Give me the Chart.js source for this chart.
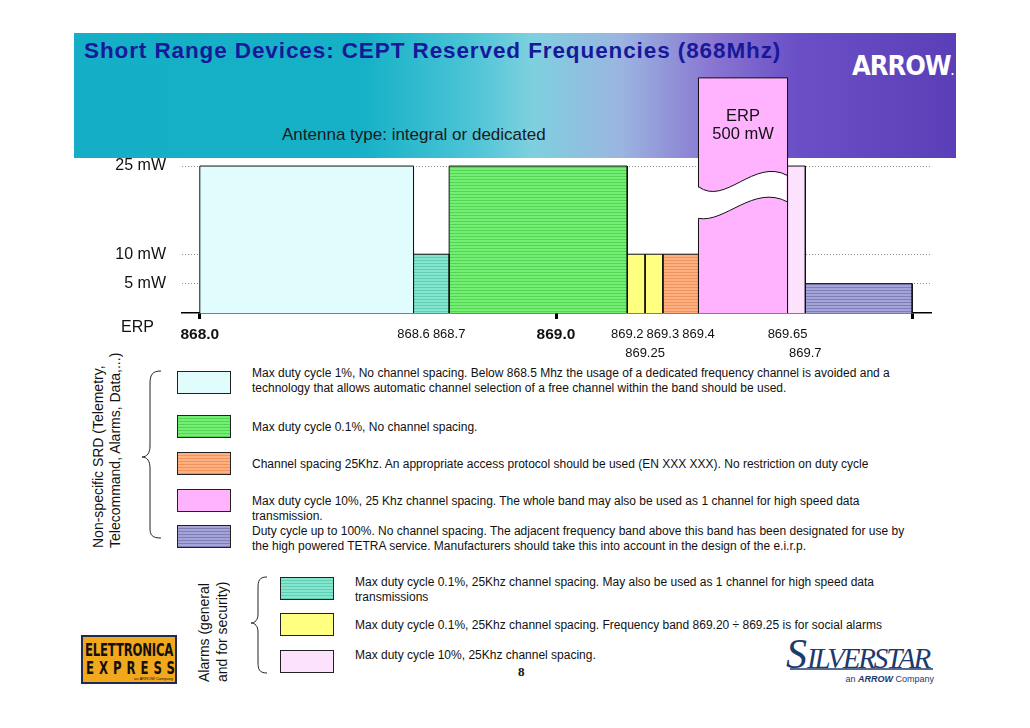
<!DOCTYPE html>
<html>
<head>
<meta charset="utf-8">
<script src="https://cdn.jsdelivr.net/npm/chart.js@4/dist/chart.umd.min.js"></script>
<style>
  html, body { margin: 0; padding: 0; background: #fff; }
  body { width: 1030px; height: 728px; position: relative; overflow: hidden;
         font-family: "Liberation Sans", Arial, sans-serif; color: #111; }
  .abs { position: absolute; }
  #header { left: 74px; top: 33px; width: 882px; height: 125px;
    background: linear-gradient(90deg, #14aec6 0%, #17b1c7 33%, #4cc4d6 45%, #7ed0df 52%, #9bb5e0 62%, #8a78d2 72%, #6a4fc6 82%, #5a3fb8 100%); }
  #title { left: 84px; top: 38px; font-size: 22.5px; letter-spacing: 0.9px; font-weight: bold; color: #18189a; white-space: nowrap; }
  #antenna { left: 282px; top: 125px; font-size: 17px; color: #1a1a1a; white-space: nowrap; }
  #arrow { left: 852px; top: 50px; font-size: 27px; font-weight: bold; color: #fff; letter-spacing: -1px;
           font-family: "DejaVu Sans Condensed", "Liberation Sans", sans-serif; }
  #chartWrap { left: 0; top: 0; width: 1030px; height: 370px; z-index: 2; pointer-events: none; }
  .sw { position: absolute; width: 52px; height: 21px; border: 1px solid #222; }
  .txt { position: absolute; font-size: 12px; line-height: 15px; white-space: nowrap; color: #111; }
  .rot { position: absolute; writing-mode: vertical-rl; transform: rotate(180deg); white-space: nowrap; color: #111; }
  .hatch-teal { background: repeating-linear-gradient(180deg, #84e6cf 0 2px, #5fcfb4 2px 3px); }
  .hatch-green { background: repeating-linear-gradient(180deg, #74ee74 0 2px, #52d652 2px 3px); }
  .hatch-orange { background: repeating-linear-gradient(180deg, #ffb07e 0 2px, #ee9460 2px 3px); }
  .hatch-purple { background: repeating-linear-gradient(180deg, #a4a4d6 0 2px, #7e7ebc 2px 3px); }
  #elettronica { left: 81px; top: 635px; width: 92px; height: 45px; background: #f2a81c; border: 2px solid #1d2b55;
                 font-family: "DejaVu Sans Condensed", sans-serif; font-weight: bold; color: #111; overflow: hidden; }
  #silverstar { left: 786px; top: 630px; width: 150px; height: 56px; color: #1d3a6c; font-family: "Liberation Serif", serif; }
</style>
</head>
<body>
<div id="header" class="abs"></div>
<div id="title" class="abs">Short Range Devices: CEPT Reserved Frequencies (868Mhz)</div>
<div id="antenna" class="abs">Antenna type: integral or dedicated</div>
<div id="arrow" class="abs">ARROW<span style="font-size:10px">.</span></div>

<div id="chartWrap" class="abs"><canvas id="bandChart" width="1030" height="370"></canvas></div>

<!-- legend: non-specific SRD -->
<div class="rot" style="left:90px; top:350px; height:198px; font-size:14px; line-height:17px;">Non-specific SRD (Telemetry,<br>Telecommand, Alarms, Data,...)</div>
<svg class="abs" style="left:0; top:0;" width="1030" height="728">
  <path d="M161,371 C152,371 150,375 150,384 L150,446 C150,453 147,457 142,457 C147,457 150,461 150,468 L150,528 C150,535 152,538 161,538" fill="none" stroke="#222" stroke-width="1"/>
  <path d="M267,577 C259,577 258,581 258,588 L258,614 C258,620 255,623 251,623 C255,623 258,626 258,632 L258,662 C258,669 259,673 267,673" fill="none" stroke="#222" stroke-width="1"/>
  <line x1="790" y1="669" x2="933" y2="669" stroke="#1d3a6c" stroke-width="1.5"/>
</svg>

<div class="sw" style="left:177px; top:371px; background:#e0fcfc;"></div>
<div class="sw hatch-green" style="left:177px; top:415px;"></div>
<div class="sw hatch-orange" style="left:177px; top:452px;"></div>
<div class="sw" style="left:177px; top:489px; background:#ffb3ff;"></div>
<div class="sw hatch-purple" style="left:177px; top:525px;"></div>

<div class="txt" style="left:252px; top:366px;">Max duty cycle 1%, No channel spacing. Below 868.5 Mhz the usage of a dedicated frequency channel is avoided and a<br>technology that allows automatic channel selection of a free channel within the band should be used.</div>
<div class="txt" style="left:252px; top:420px;">Max duty cycle 0.1%, No channel spacing.</div>
<div class="txt" style="left:252px; top:457px;">Channel spacing 25Khz. An appropriate access protocol should be used (EN XXX XXX). No restriction on duty cycle</div>
<div class="txt" style="left:252px; top:494px;">Max duty cycle 10%, 25 Khz channel spacing. The whole band may also be used as 1 channel for high speed data<br>transmission.</div>
<div class="txt" style="left:252px; top:524px;">Duty cycle up to 100%. No channel spacing. The adjacent frequency band above this band has been designated for use by<br>the high powered TETRA service. Manufacturers should take this into account in the design of the e.i.r.p.</div>

<!-- legend: alarms -->
<div class="rot" style="left:195px; top:575px; height:107px; font-size:14px; line-height:18px;">Alarms (general<br>and for security)</div>
<div class="sw hatch-teal" style="left:280px; top:577px;"></div>
<div class="sw" style="left:280px; top:613px; background:#ffff80;"></div>
<div class="sw" style="left:280px; top:650px; background:#fde2fd;"></div>
<div class="txt" style="left:355px; top:575px;">Max duty cycle 0.1%, 25Khz channel spacing. May also be used as 1 channel for high speed data<br>transmissions</div>
<div class="txt" style="left:355px; top:618px;">Max duty cycle 0.1%, 25Khz channel spacing. Frequency band 869.20 ÷ 869.25 is for social alarms</div>
<div class="txt" style="left:355px; top:648px;">Max duty cycle 10%, 25Khz channel spacing.</div>
<div class="abs" style="left:518px; top:664px; font-family:'Liberation Serif',serif; font-weight:bold; font-size:13px;">8</div>

<div id="elettronica" class="abs">
  <div style="position:absolute; left:2px; top:3px; font-size:13px; letter-spacing:-0.2px; transform:scaleY(1.35); transform-origin:0 0;">ELETTRONICA</div>
  <div style="position:absolute; left:3px; top:21px; font-size:13px; letter-spacing:5px; transform:scaleY(1.35); transform-origin:0 0;">EXPRESS</div>
  <div style="position:absolute; right:2px; top:39px; font-size:4px; font-weight:normal; font-family:'Liberation Sans',sans-serif;">an ARROW Company</div>
</div>
<div id="silverstar" class="abs">
  <div style="position:absolute; left:0; top:0; font-style:italic; white-space:nowrap;"><span style="font-size:42px;">S</span><span style="font-size:29px; letter-spacing:-2.2px;">ILVERSTAR</span></div>
  <div style="position:absolute; right:2px; top:44px; font-size:9px; font-family:'Liberation Sans',sans-serif;">an <b><i>ARROW</i></b> Company</div>
</div>

<script>
// frequency bands (MHz) and their max ERP (mW)
const bandStart = [868.0, 868.6, 868.7, 869.2, 869.25, 869.3, 869.4, 869.65, 869.7];
const bandEnd   = [868.6, 868.7, 869.2, 869.25, 869.3, 869.4, 869.65, 869.7, 870.0];
const bandErp   = [25, 10, 25, 10, 10, 10, 500, 25, 5];

// x axis ticks
const tickValues = [868.0, 868.6, 868.7, 869.0, 869.2, 869.25, 869.3, 869.4, 869.65, 869.7, 870.0];
const tickLabels = ['868.0', '868.6', '868.7', '869.0', '869.2', '869.25', '869.3', '869.4', '869.65', '869.7', ''];
const majorTicks = [868.0, 869.0, 870.0];
const lowerRowTicks = [869.25, 869.7];

// y axis ticks (mW)
const erpTicks = [5, 10, 25];
const brokenAxisCap = 40;   // bars above this are drawn cut with a break

const FONT = '"Liberation Sans", Arial, sans-serif';

function makeHatch(base, line) {
    const c = document.createElement('canvas');
    c.width = 4; c.height = 3;
    const g = c.getContext('2d');
    g.fillStyle = base; g.fillRect(0, 0, 4, 3);
    g.fillStyle = line; g.fillRect(0, 2, 4, 1);
    return g.createPattern(c, 'repeat');
}

const bandFill = [
    '#e0fcfc',
    makeHatch('#84e6cf', '#5fcfb4'),
    makeHatch('#74ee74', '#52d652'),
    '#ffff80',
    '#ffff80',
    makeHatch('#ffb07e', '#ee9460'),
    '#ffb3ff',
    '#fde2fd',
    makeHatch('#a4a4d6', '#7e7ebc')
];

const datasets = bandStart.map((s, i) => {
    const e = bandEnd[i];
    const h = Math.min(bandErp[i], brokenAxisCap);
    return {
        data: [{x: s, y: 0}, {x: s, y: h}, {x: e, y: h}, {x: e, y: 0}],
        borderColor: '#111',
        borderWidth: 1,
        backgroundColor: bandFill[i],
        fill: 'origin',
        pointRadius: 0,
        tension: 0
    };
});

// wavy break on off-scale bands + their ERP label
const breakPlugin = {
    id: 'breakPlugin',
    afterDatasetsDraw(chart) {
        const {ctx, scales: {x, y}} = chart;
        bandErp.forEach((v, i) => {
            if (v <= brokenAxisCap) return;
            const L = x.getPixelForValue(bandStart[i]);
            const R = x.getPixelForValue(bandEnd[i]);
            const w = R - L;
            const t0 = y.getPixelForValue(21.5), t1 = y.getPixelForValue(23.4);
            const b0 = y.getPixelForValue(16.1), b1 = y.getPixelForValue(18.9);
            ctx.save();
            ctx.beginPath();
            ctx.moveTo(L - 1.5, t0);
            ctx.bezierCurveTo(L + 0.3 * w, t0 + 20, L + 0.62 * w, t1 - 18, R - 1, t1);
            ctx.lineTo(R - 1, b1);
            ctx.bezierCurveTo(L + 0.62 * w, b1 - 18, L + 0.3 * w, b0 + 5, L - 1.5, b0);
            ctx.closePath();
            ctx.fillStyle = '#fff';
            ctx.fill();
            ctx.strokeStyle = '#111';
            ctx.lineWidth = 1;
            ctx.beginPath();
            ctx.moveTo(L, t0);
            ctx.bezierCurveTo(L + 0.3 * w, t0 + 20, L + 0.62 * w, t1 - 18, R, t1);
            ctx.stroke();
            ctx.beginPath();
            ctx.moveTo(L, b0);
            ctx.bezierCurveTo(L + 0.3 * w, b0 + 5, L + 0.62 * w, b1 - 18, R, b1);
            ctx.stroke();

            const top = y.getPixelForValue(brokenAxisCap);
            ctx.fillStyle = '#111';
            ctx.font = '16.5px ' + FONT;
            ctx.textAlign = 'center';
            ctx.textBaseline = 'middle';
            ctx.fillText('ERP', (L + R) / 2, top + 39);
            ctx.fillText(v + ' mW', (L + R) / 2, top + 57);
            ctx.restore();
        });

        // "ERP" caption to the left of the frequency axis
        ctx.save();
        ctx.fillStyle = '#111';
        ctx.font = '16px ' + FONT;
        ctx.textAlign = 'right';
        ctx.textBaseline = 'middle';
        ctx.fillText('ERP', chart.chartArea.left - 28, chart.chartArea.bottom + 15);
        ctx.restore();
    }
};

new Chart(document.getElementById('bandChart'), {
    type: 'line',
    data: { datasets },
    options: {
        responsive: false,
        animation: false,
        layout: { padding: { top: 72, right: 100, left: 0, bottom: 0 } },
        plugins: { legend: { display: false }, tooltip: { enabled: false } },
        scales: {
            x: {
                type: 'linear',
                min: 867.95,
                max: 870.05,
                afterBuildTicks: s => { s.ticks = tickValues.map(v => ({value: v})); },
                afterFit: s => { s.height = 57; },
                border: { display: true, color: '#000', width: 1.5 },
                grid: {
                    drawOnChartArea: false,
                    drawTicks: true,
                    tickLength: 6,
                    color: c => majorTicks.includes(c.tick && c.tick.value) ? '#000' : 'rgba(0,0,0,0)',
                    lineWidth: c => majorTicks.includes(c.tick && c.tick.value) ? 3 : 1
                },
                ticks: {
                    autoSkip: false,
                    maxRotation: 0,
                    minRotation: 0,
                    padding: 6,
                    color: '#111',
                    font: c => majorTicks.includes(c.tick && c.tick.value)
                        ? {family: FONT, size: 15.5, weight: 'bold', lineHeight: 1.2}
                        : {family: FONT, size: 13, lineHeight: 1.45},
                    callback: v => {
                        const lbl = tickLabels[tickValues.indexOf(v)] || '';
                        return lowerRowTicks.includes(v) ? ['', lbl] : lbl;
                    }
                }
            },
            y: {
                min: 0,
                max: 41,
                afterBuildTicks: s => { s.ticks = erpTicks.map(v => ({value: v})); },
                afterFit: s => { s.width = 182; },
                border: { display: false, dash: [1, 2] },
                grid: {
                    color: '#8c8c8c',
                    lineWidth: 1,
                    drawTicks: false
                },
                ticks: {
                    padding: 16,
                    color: '#111',
                    font: {family: FONT, size: 16},
                    callback: v => v + ' mW'
                }
            }
        }
    },
    plugins: [breakPlugin]
});
</script>
</body>
</html>
